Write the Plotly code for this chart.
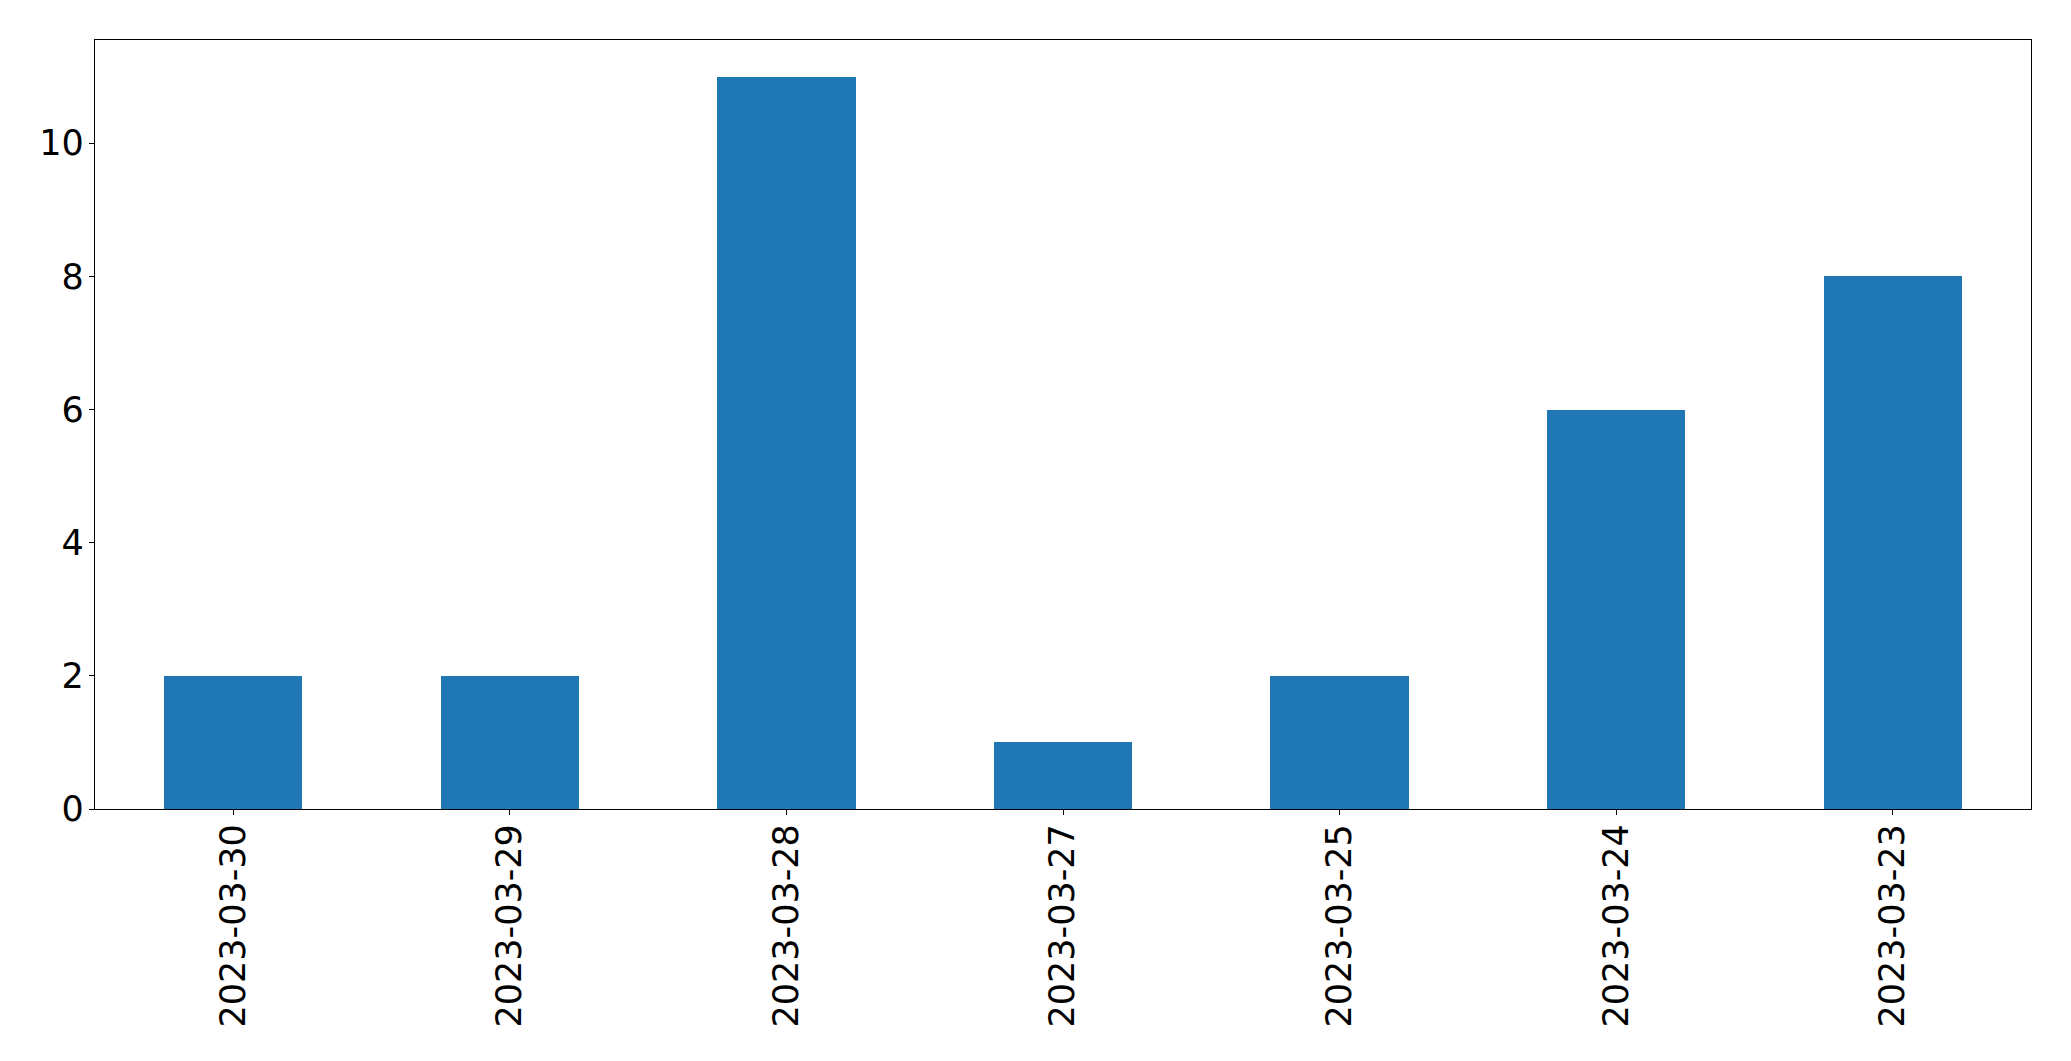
import plotly.graph_objects as go

categories = ["2023-03-30", "2023-03-29", "2023-03-28", "2023-03-27", "2023-03-25", "2023-03-24", "2023-03-23"]
values = [2, 2, 11, 1, 2, 6, 8]
y_ticks = [0, 2, 4, 6, 8, 10]

fig = go.Figure(go.Bar(
    x=list(range(len(categories))), y=values, width=0.5,
    marker=dict(color="#1f77b4", line=dict(width=0)),
))

axis_common = dict(
    showline=True, linecolor="black", linewidth=1.3, mirror=True,
    ticks="outside", ticklen=5, tickwidth=1.3, tickcolor="black",
    showgrid=False, zeroline=False, automargin=False,
    tickfont=dict(family="DejaVu Sans", size=35, color="black"),
)

fig.update_xaxes(
    range=[-0.5, len(categories) - 0.5],
    tickmode="array", tickvals=list(range(len(categories))), ticktext=categories,
    tickangle=-90, ticklabelstandoff=-5, **axis_common,
)
fig.update_yaxes(
    range=[0, 11.55], tickmode="array", tickvals=y_ticks,
    ticklabelstandoff=-2, **axis_common,
)

fig.update_layout(
    width=2071, height=1061,
    margin=dict(l=94.5, r=40, t=39.5, b=252),
    plot_bgcolor="white", paper_bgcolor="white",
    showlegend=False, bargap=0,
)

fig.write_html(
    "out.html",
    config={"displayModeBar": False},
    post_script="document.body.style.margin='0';document.body.style.overflow='hidden';",
)
